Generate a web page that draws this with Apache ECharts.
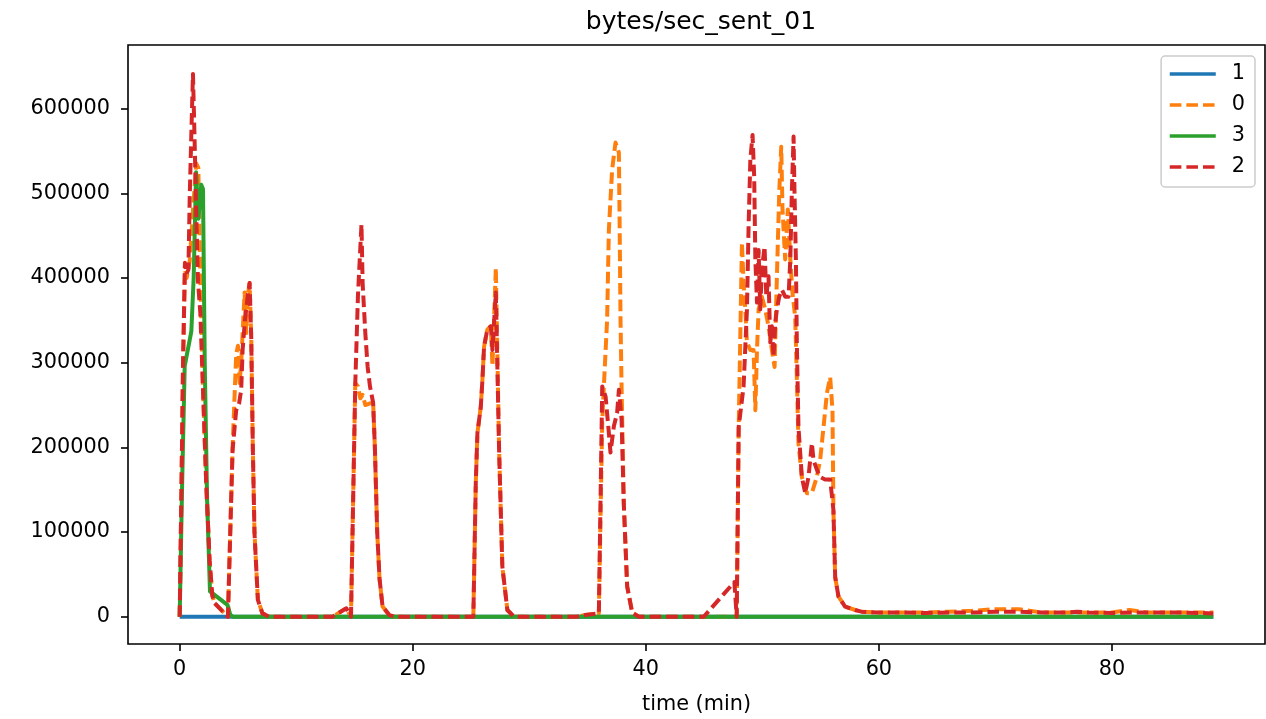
<!DOCTYPE html>
<html><head><meta charset="utf-8">
<script src="https://cdn.jsdelivr.net/npm/echarts@6/dist/echarts.min.js"></script>
<style>html,body{margin:0;padding:0;background:#fff}#c{width:1266px;height:719px}</style>
</head><body><div id="c"></div>
<script>
const xTicks = [0, 20, 40, 60, 80];
const yTicks = [0, 100000, 200000, 300000, 400000, 500000, 600000];
const seriesNames = ['1', '0', '3', '2'];

// series "1"
const t1 = [0, 88.7];
const v1 = [0, 0];

// series "0"
const t0 = [0,0.15,0.29,0.45,0.6,0.86,1.14,1.43,1.6,1.77,2.0,2.28,2.57,2.8,3.0,3.5,4.14,
  4.28,4.54,4.85,5.0,5.14,5.28,5.57,5.71,5.85,6.0,6.14,6.28,6.42,6.71,7.1,7.7,
  13.1,14.3,14.7,15.07,15.3,15.5,15.7,15.93,16.33,16.6,16.75,16.95,17.15,17.41,17.99,18.5,
  25.2,25.41,25.55,25.84,25.98,26.12,26.4,26.7,26.84,27.13,27.41,27.69,28.12,28.7,
  34.0,34.8,35.97,36.05,36.26,36.4,36.68,36.83,37.11,37.4,37.69,37.75,37.83,37.92,38.11,38.4,38.83,39.4,
  47.8,47.97,48.1,48.25,48.39,48.54,48.68,48.97,49.25,49.4,49.54,49.68,49.96,50.25,50.53,50.82,51.05,
  51.25,51.45,51.62,51.73,51.96,52.19,52.4,52.59,52.82,52.96,53.1,53.39,53.82,54.25,54.67,54.96,
  55.25,55.54,55.82,56.02,56.1,56.25,56.53,57.1,57.96,
  58.5,60,62,64,66,68,70,72,74,76,78,80,81.5,83,86,88.7];
const v0 = [0,150000,300000,410000,400000,420000,480000,535000,530000,400000,269000,156000,66000,25000,16000,9000,0,
  70000,200000,310000,320000,276000,300000,383000,335000,380000,394000,330000,197000,99000,20000,4000,0,
  0,10000,0,276000,272000,258000,262000,250000,252000,253000,200000,100000,45000,12000,2000,0,
  0,158000,217000,248000,280000,319000,339000,343000,296000,412000,197000,59000,8000,0,
  0,2000,4000,3000,230000,272000,351000,457000,528000,560000,548000,469000,351000,272000,134000,36000,5000,0,
  0,224000,324000,442000,394000,363000,324000,315000,315000,244000,315000,363000,378000,363000,343000,315000,295000,
  402000,501000,555000,481000,422000,481000,422000,382000,354000,283000,205000,165000,146000,146000,165000,185000,
  224000,264000,283000,244000,126000,47000,24000,12000,8000,
  6000,5000,5000,5000,6000,7000,9000,9000,5000,5000,5000,5000,8000,5000,5000,5000];

// series "3"
const t3 = [0,0.2,0.43,1.0,1.2,1.41,1.6,1.85,2.0,2.15,2.35,2.6,4.1,4.35,4.6,88.7];
const v3 = [0,150000,296000,337000,400000,525000,470000,510000,505000,300000,140000,30000,14000,2000,0,0];

// series "2"
const t2 = [0,0.15,0.29,0.45,0.6,0.75,0.86,1.0,1.14,1.28,1.43,1.57,1.77,2.0,2.28,2.57,2.8,3.0,3.5,4.14,
  4.28,4.54,4.85,5.1,5.28,5.4,5.6,5.85,6.0,6.14,6.28,6.42,6.71,7.1,7.7,
  13.1,14.3,14.7,15.07,15.3,15.6,15.7,15.93,16.13,16.33,16.6,16.75,16.95,17.15,17.41,17.99,18.5,
  25.2,25.41,25.55,25.84,25.98,26.12,26.4,26.7,26.84,27.13,27.41,27.69,28.12,28.7,
  34.0,34.8,35.97,36.05,36.26,36.55,36.83,36.97,37.26,37.54,37.69,37.92,38.11,38.4,38.83,39.4,
  44.97,47.6,47.8,47.97,48.39,48.68,48.82,48.97,49.16,49.3,49.4,49.54,49.68,49.82,49.96,50.19,50.34,
  50.53,50.68,50.82,50.96,51.11,51.25,51.45,51.68,51.96,52.25,52.4,52.53,52.68,52.76,52.88,52.96,
  53.1,53.39,53.68,53.96,54.25,54.39,54.67,54.96,55.39,55.82,56.1,56.25,56.53,57.1,57.96,
  58.5,60,62,64,66,68,70,72,74,76,77,78,80,82,84,86,88.7];
const v2 = [0,150000,300000,418000,405000,410000,495000,570000,641000,563000,472000,396000,359000,269000,156000,66000,25000,16000,9000,0,
  70000,197000,244000,252000,268000,315000,350000,380000,394000,330000,197000,99000,20000,4000,0,
  0,10000,0,276000,380000,463000,394000,335000,295000,272000,253000,200000,100000,45000,12000,2000,0,
  0,158000,217000,248000,280000,319000,339000,343000,315000,383000,197000,59000,8000,0,
  0,2000,4000,3000,272000,260000,217000,194000,225000,241000,268000,233000,134000,36000,5000,0,
  0,41000,0,224000,272000,363000,461000,540000,569000,520000,422000,371000,433000,363000,410000,437000,378000,
  402000,324000,343000,307000,347000,363000,378000,386000,378000,378000,422000,501000,567000,501000,422000,324000,
  224000,165000,146000,165000,205000,185000,174000,165000,162000,162000,126000,47000,24000,12000,8000,
  6000,5000,5000,4500,5000,5000,6000,6000,5000,5000,6000,5000,4500,5000,5000,5000,4000];

const colors = ['#1f77b4', '#ff7f0e', '#2ca02c', '#d62728'];
const LW = 3.3;
const SERIES_LW = 4;
const dash = [11.6, 5];
const FONT = 'DejaVu Sans';

function pairs(t, v) { return t.map((x, i) => [x, v[i]]); }

const chart = echarts.init(document.getElementById('c'), null, { renderer: 'canvas' });
const mk = (name, t, v, color, dashed) => ({
  name, type: 'line', data: pairs(t, v), showSymbol: false, symbol: 'none',
  lineStyle: { color: color, width: SERIES_LW, type: dashed ? dash : 'solid', cap: 'butt', join: 'round' },
  itemStyle: { color: color }, animation: false, clip: true
});

chart.setOption({
  animation: false,
  backgroundColor: '#fff',
  title: {
    text: 'bytes/sec_sent_01', left: 696, top: 5, textAlign: 'center',
    textStyle: { fontSize: 25, fontWeight: 'normal', color: '#000', fontFamily: FONT }
  },
  legend: {
    orient: 'vertical', right: 11, top: 56, data: seriesNames,
    itemWidth: 46, itemHeight: 14, itemGap: 7,
    padding: [6, 10, 8, 7],
    borderColor: '#cccccc', borderWidth: 1.5, borderRadius: 4, backgroundColor: 'rgba(255,255,255,0.8)',
    itemStyle: { opacity: 0, borderWidth: 0 },
    lineStyle: { width: LW },
    textStyle: { fontSize: 20.8, color: '#000', fontFamily: FONT, padding: [0, 0, 0, 11], lineHeight: 24 }
  },
  grid: {
    left: 128, right: 1, top: 45, bottom: 75, containLabel: false, outerBoundsMode: 'none',
    show: true, borderColor: '#000', borderWidth: 1.6, backgroundColor: 'transparent'
  },
  xAxis: {
    type: 'value', min: -4.435, max: 93.135,
    name: 'time (min)', nameLocation: 'middle', nameGap: 50,
    nameTextStyle: { fontSize: 20.8, color: '#000', fontFamily: FONT },
    axisLine: { show: false, onZero: false },
    axisTick: { show: true, customValues: xTicks, length: 7, lineStyle: { color: '#000', width: 1.6 } },
    axisLabel: { customValues: xTicks, fontSize: 20.8, color: '#000', margin: 15, fontFamily: FONT,
      formatter: v => String(v) },
    splitLine: { show: false }
  },
  yAxis: {
    type: 'value', min: -32150, max: 675150,
    axisLine: { show: false, onZero: false },
    axisTick: { show: true, customValues: yTicks, length: 7, lineStyle: { color: '#000', width: 1.6 } },
    axisLabel: { customValues: yTicks, fontSize: 20.8, color: '#000', margin: 18, fontFamily: FONT,
      formatter: v => String(v) },
    splitLine: { show: false }
  },
  series: [
    mk('1', t1, v1, colors[0], false),
    mk('0', t0, v0, colors[1], true),
    mk('3', t3, v3, colors[2], false),
    mk('2', t2, v2, colors[3], true)
  ]
});
</script>
</body></html>
